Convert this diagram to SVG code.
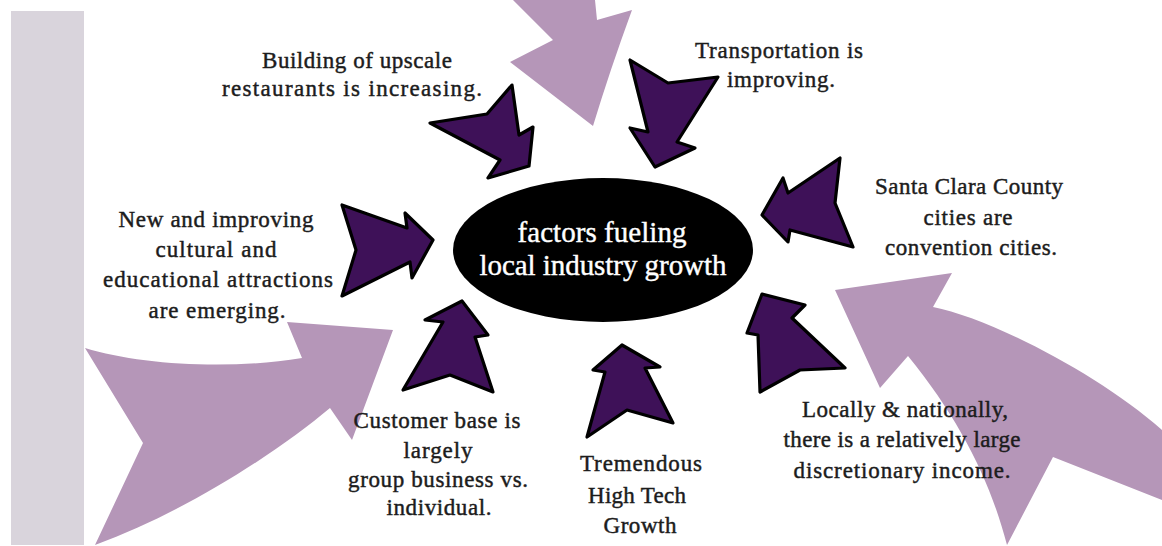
<svg xmlns="http://www.w3.org/2000/svg" width="1162" height="546" viewBox="0 0 1162 546">
  <defs>
    <style>
      .lbl{font-family:"Liberation Serif","Times New Roman",serif;font-size:23px;fill:#1c1c1c;stroke:#1c1c1c;stroke-width:0.45;text-anchor:middle}
      .hub-text{font-family:"Liberation Serif","Times New Roman",serif;font-size:29px;fill:#ffffff;stroke:#ffffff;stroke-width:0.4;text-anchor:middle}
      .dark{fill:#3e1158;stroke:#000000;stroke-width:3.2;stroke-linejoin:round}
      .big{fill:#b596b8}
    </style>
  </defs>

  <rect width="1162" height="546" fill="#ffffff"/>
  <!-- side band -->
  <rect id="side-band" x="11" y="11" width="73" height="534" fill="#d9d4dc"/>

  <!-- large decorative block arrows -->
  <g id="backdrop-arrows" class="big">
    <path d="M513,0 Q535,22 553,40 L510,62 L593,126 Q610,70 632,10 L597,20 L595,0 Z"/>
    <path d="M85,348 C140,365 230,370 302,358 L287,322 L393,330 L352,440 L330,408 C280,450 190,510 95,545 L143,443 Z"/>
    <path d="M835,290 L952,273 L933,307 C990,318 1100,375 1162,430 L1162,500 L1053,457 L1007,545 C990,480 960,420 908,356 L880,388 Z"/>
  </g>

  <!-- central hub -->
  <g id="hub">
    <ellipse cx="603" cy="250" rx="150" ry="72" fill="#000000"/>
    <text class="hub-text" x="602" y="242" textLength="169">factors fueling</text>
    <text class="hub-text" x="603" y="275" textLength="247">local industry growth</text>
  </g>

  <!-- arrows pointing into the hub -->
  <g id="connectors">
    <polygon id="arrow-restaurants" class="dark" points="529,166 533,127 519,135 512,85 487,114 430,123 500,160 488,178"/>
    <polygon id="arrow-transport" class="dark" points="655,167 695,148 677,142 718,77 668,83 630,60 648,132 630,128"/>
    <polygon id="arrow-convention" class="dark" points="762,215 783,178 788,193 840,158 835,203 853,247 790,230 788,242"/>
    <polygon id="arrow-cultural" class="dark" points="433,240 405,213 407,228 342,205 356,250 342,296 410,262 412,278"/>
    <polygon id="arrow-customer" class="dark" points="462,301 488,335 475,337 493,392 450,375 403,390 443,322 425,320"/>
    <polygon id="arrow-hightech" class="dark" points="622,345 660,367 645,368 673,423 627,410 587,437 605,372 593,370"/>
    <polygon id="arrow-income" class="dark" points="762,294 805,305 792,318 845,368 800,370 760,392 758,335 747,333"/>
  </g>

  <g id="label-restaurants">
    <text class="lbl" x="357" y="68" textLength="190">Building of upscale</text>
    <text class="lbl" x="352" y="96" textLength="260">restaurants is increasing.</text>
  </g>
  <g id="label-transport">
    <text class="lbl" x="779" y="58" textLength="168">Transportation is</text>
    <text class="lbl" x="781" y="87" textLength="108">improving.</text>
  </g>
  <g id="label-convention">
    <text class="lbl" x="969" y="194" textLength="188">Santa Clara County</text>
    <text class="lbl" x="968" y="225" textLength="89">cities are</text>
    <text class="lbl" x="971" y="255" textLength="172">convention cities.</text>
  </g>
  <g id="label-cultural">
    <text class="lbl" x="216" y="227" textLength="195">New and improving</text>
    <text class="lbl" x="216" y="257" textLength="121">cultural and</text>
    <text class="lbl" x="218" y="287" textLength="230">educational attractions</text>
    <text class="lbl" x="217" y="318" textLength="137">are emerging.</text>
  </g>
  <g id="label-customer">
    <text class="lbl" x="437" y="428" textLength="167">Customer base is</text>
    <text class="lbl" x="438" y="458" textLength="69">largely</text>
    <text class="lbl" x="438" y="487" textLength="180">group business vs.</text>
    <text class="lbl" x="439" y="515" textLength="105">individual.</text>
  </g>
  <g id="label-hightech">
    <text class="lbl" x="641" y="471" textLength="122">Tremendous</text>
    <text class="lbl" x="637" y="503" textLength="98">High Tech</text>
    <text class="lbl" x="640" y="533" textLength="73">Growth</text>
  </g>
  <g id="label-income">
    <text class="lbl" x="905" y="417" textLength="206">Locally &amp; nationally,</text>
    <text class="lbl" x="902" y="447" textLength="237">there is a relatively large</text>
    <text class="lbl" x="902" y="478" textLength="217">discretionary income.</text>
  </g>
</svg>
